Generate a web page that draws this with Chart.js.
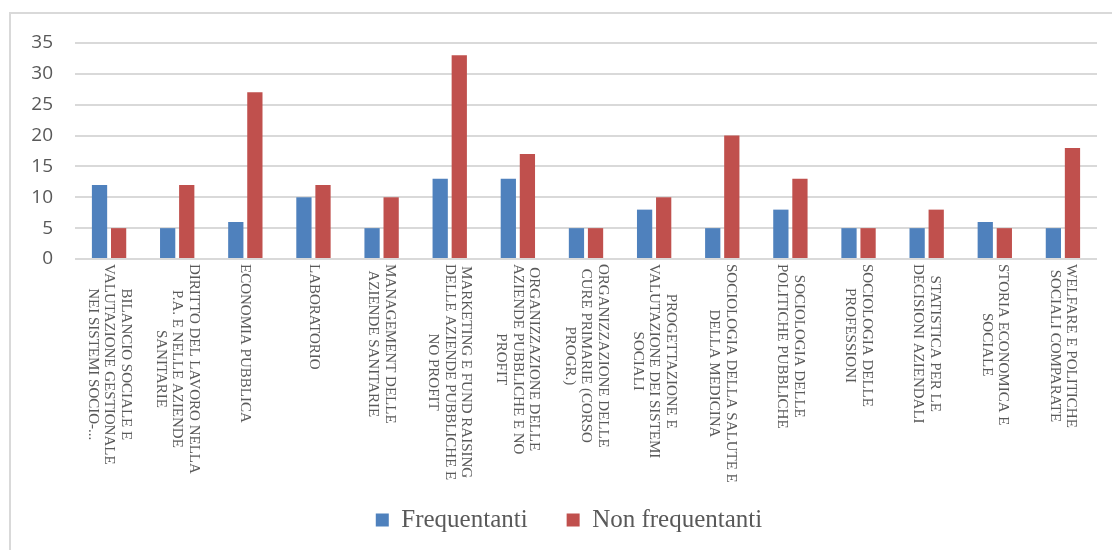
<!DOCTYPE html>
<html>
<head>
<meta charset="utf-8">
<script src="https://cdn.jsdelivr.net/npm/chart.js@4"></script>
<style>
  body { margin: 0; background: #fff; overflow: hidden; }
  #wrap { position: relative; width: 1112px; height: 550px; }
  #frame { position: absolute; left: 9px; top: 12px; width: 1200px; height: 600px; border: 2px solid #d9d9d9; box-sizing: border-box; }
  canvas { position: absolute; left: 0; top: 0; }
</style>
</head>
<body>
<div id="wrap">
  <div id="frame"></div>
  <canvas id="chart" width="1112" height="550"></canvas>
</div>
<script>
// categorie (righe delle etichette come nel grafico)
const corsi = [
  ['BILANCIO SOCIALE E', 'VALUTAZIONE GESTIONALE', 'NEI SISTEMI SOCIO-...'],
  ['DIRITTO DEL LAVORO NELLA', 'P.A. E NELLE AZIENDE', 'SANITARIE'],
  ['ECONOMIA PUBBLICA'],
  ['LABORATORIO'],
  ['MANAGEMENT DELLE', 'AZIENDE SANITARIE'],
  ['MARKETING E FUND RAISING', 'DELLE AZIENDE PUBBLICHE E', 'NO PROFIT'],
  ['ORGANIZZAZIONE DELLE', 'AZIENDE PUBBLICHE E NO', 'PROFIT'],
  ['ORGANIZZAZIONE DELLE', 'CURE PRIMARIE (CORSO', 'PROGR.)'],
  ['PROGETTAZIONE E', 'VALUTAZIONE DEI SISTEMI', 'SOCIALI'],
  ['SOCIOLOGIA DELLA SALUTE E', 'DELLA MEDICINA'],
  ['SOCIOLOGIA DELLE', 'POLITICHE PUBBLICHE'],
  ['SOCIOLOGIA DELLE', 'PROFESSIONI'],
  ['STATISTICA PER LE', 'DECISIONI AZIENDALI'],
  ['STORIA ECONOMICA E', 'SOCIALE'],
  ['WELFARE E POLITICHE', 'SOCIALI COMPARATE']
];
const frequentanti    = [12, 5, 6, 10, 5, 13, 13, 5, 8, 5, 8, 5, 5, 6, 5];
const nonFrequentanti = [5, 12, 27, 12, 10, 33, 17, 5, 10, 20, 13, 5, 8, 5, 18];
const yTicks = [0, 5, 10, 15, 20, 25, 30, 35];

// etichette ruotate di 90 gradi in senso orario, come in Excel
const labelsRuotate = {
  id: 'labelsRuotate',
  afterLayout(chart) {
    // la legenda nell'originale e' un po' spostata a destra
    chart.legend.left += 41;
  },
  afterDraw(chart) {
    const x = chart.scales.x;
    const ctx = chart.ctx;
    const lh = 16.5;
    ctx.save();
    ctx.font = '15px "Liberation Serif", serif';
    ctx.fillStyle = '#595959';
    ctx.textAlign = 'center';
    ctx.textBaseline = 'middle';
    corsi.forEach((righe, i) => {
      const px = x.getPixelForTick(i);
      const w = Math.max(...righe.map(r => ctx.measureText(r).width));
      ctx.save();
      ctx.translate(px, x.top + 5);
      ctx.rotate(Math.PI / 2);
      righe.forEach((r, k) => {
        ctx.fillText(r, w / 2, (k - (righe.length - 1) / 2) * lh);
      });
      ctx.restore();
    });
    ctx.restore();
  }
};

const chart = new Chart(document.getElementById('chart'), {
  type: 'bar',
  data: {
    labels: corsi.map(r => r.join(' ')),
    datasets: [
      { label: 'Frequentanti', data: frequentanti, backgroundColor: '#4f81bd',
        categoryPercentage: 0.56, barPercentage: 0.8 },
      { label: 'Non frequentanti', data: nonFrequentanti, backgroundColor: '#c0504d',
        categoryPercentage: 0.56, barPercentage: 0.8 }
    ]
  },
  options: {
    responsive: false,
    animation: false,
    layout: { padding: { top: 43, right: 15, left: 0, bottom: 7.5 } },
    plugins: {
      tooltip: { enabled: false },
      legend: {
        position: 'bottom',
        labels: {
          boxWidth: 13, boxHeight: 13, padding: 39,
          color: '#595959',
          font: { family: '"Liberation Serif", serif', size: 25 }
        }
      }
    },
    scales: {
      x: {
        grid: { display: false },
        border: { display: false },
        ticks: { display: false },
        afterFit(s) { s.height = 209.5; }
      },
      y: {
        min: 0, max: 35,
        afterBuildTicks(s) { s.ticks = yTicks.map(v => ({ value: v })); },
        grid: { color: '#d9d9d9', lineWidth: 2, drawTicks: false },
        border: { display: false },
        ticks: {
          padding: 22, color: '#595959',
          font: { family: '"Open Sans", sans-serif', size: 19 }
        },
        afterFit(s) { s.width = 75; }
      }
    }
  },
  plugins: [labelsRuotate]
});
</script>
</body>
</html>
